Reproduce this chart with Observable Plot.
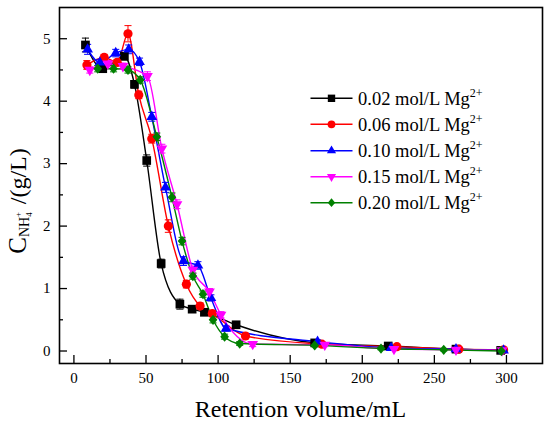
<!DOCTYPE html>
<html><head><meta charset="utf-8">
<script src="https://cdn.jsdelivr.net/npm/d3@7"></script>
<script src="https://cdn.jsdelivr.net/npm/@observablehq/plot@0.6"></script>
<style>body{margin:0;background:#fff}#chart{width:550px;height:423px}#chart svg text{font-family:'Liberation Serif','Times New Roman',serif !important}</style>
</head><body><div id="chart"></div>
<script>
// ---- data ----
const seriesLabels = ["0.02 mol/L Mg", "0.06 mol/L Mg", "0.10 mol/L Mg", "0.15 mol/L Mg", "0.20 mol/L Mg"];
const seriesColors = ["#000000", "#ff0000", "#0000ff", "#ff00ff", "#008000"];

const x002 = [8, 20, 35, 42, 50.5, 60.5, 73.5, 82, 90.5, 112.5, 167, 218, 265, 296];
const y002 = [4.9, 4.52, 4.72, 4.27, 3.05, 1.4, 0.75, 0.67, 0.62, 0.42, 0.13, 0.08, 0.03, 0.01];
const e002 = [0.11, 0.05, 0.06, 0.06, 0.09, 0.07, 0.08, 0.05, 0.05, 0.05, 0.03, 0.02, 0.02, 0.02];

const x006 = [9, 21, 30, 37.5, 45, 54, 65.5, 78, 87.5, 96, 119, 172, 224, 267, 298];
const y006 = [4.58, 4.7, 4.62, 5.08, 4.1, 3.4, 2.0, 1.07, 0.72, 0.6, 0.24, 0.11, 0.07, 0.03, 0.02];
const e006 = [0.07, 0.05, 0.05, 0.13, 0.06, 0.07, 0.1, 0.06, 0.05, 0.05, 0.04, 0.03, 0.02, 0.02, 0.02];

const x010 = [9.5, 18, 29, 38, 45.5, 54, 63.5, 76, 86, 95, 105.5, 169, 220, 265, 298];
const y010 = [4.83, 4.62, 4.77, 4.83, 4.63, 3.75, 2.62, 1.44, 1.37, 0.85, 0.36, 0.15, 0.05, 0.03, 0.01];
const e010 = [0.08, 0.05, 0.06, 0.07, 0.06, 0.07, 0.08, 0.07, 0.06, 0.05, 0.04, 0.03, 0.02, 0.02, 0.02];

const x015 = [11, 23.5, 34, 51, 61, 71.5, 82.5, 94, 102, 124, 174, 222, 265, 297];
const y015 = [4.5, 4.6, 4.56, 4.4, 3.24, 2.35, 1.3, 0.95, 0.58, 0.11, 0.1, 0.03, 0.02, 0.01];
const e015 = [0.05, 0.05, 0.05, 0.07, 0.07, 0.07, 0.06, 0.05, 0.05, 0.04, 0.03, 0.02, 0.02, 0.02];

const x020 = [16.5, 27.5, 37.5, 46, 57.5, 68, 75, 82.5, 89.5, 96.5, 104.5, 115, 167, 213, 256.5, 296.5];
const y020 = [4.52, 4.52, 4.5, 4.34, 3.43, 2.46, 1.76, 1.2, 0.91, 0.5, 0.23, 0.12, 0.09, 0.04, 0.02, 0.0];
const e020 = [0.05, 0.05, 0.05, 0.05, 0.06, 0.07, 0.06, 0.05, 0.05, 0.05, 0.04, 0.03, 0.02, 0.02, 0.02, 0.02];

const xTicks = [0, 50, 100, 150, 200, 250, 300];
const xMinorTicks = [25, 75, 125, 175, 225, 275];
const yTicks = [0, 1, 2, 3, 4, 5];
const yMinorTicks = [0.5, 1.5, 2.5, 3.5, 4.5];

// ---- build tables ----
const xs = [x002, x006, x010, x015, x020];
const ys = [y002, y006, y010, y015, y020];
const es = [e002, e006, e010, e015, e020];
const series = xs.map((xa, i) => xa.map((x, j) => ({x, y: ys[i][j], err: es[i][j]})));

// custom symbols
const symbolDown = {draw(ctx, size) {
  const y = -Math.sqrt(size / (Math.sqrt(3) * 3));
  ctx.moveTo(0, -y * 2); ctx.lineTo(Math.sqrt(3) * y, y); ctx.lineTo(-Math.sqrt(3) * y, y); ctx.closePath();
}};
const symbolDiamond = {draw(ctx, size) {
  const h = Math.sqrt(size / 0.8) * 1.1, w = h * 0.85;
  ctx.moveTo(0, -h / 2); ctx.lineTo(w / 2, 0); ctx.lineTo(0, h / 2); ctx.lineTo(-w / 2, 0); ctx.closePath();
}};
const symbolCap = {draw(ctx, size) {
  const w = Math.sqrt(size); ctx.moveTo(-w, 0); ctx.lineTo(w, 0);
}};
const seriesSymbols = [d3.symbolSquare, d3.symbolCircle, d3.symbolTriangle, symbolDown, symbolDiamond];
const seriesR = [4.9, 4.6, 4.0, 4.0, 4.7];

const plotW = 550, plotH = 423, mL = 59, mR = 8, mT = 7, mB = 60;
const innerW = plotW - mL - mR, innerH = plotH - mT - mB;
const font = "'Liberation Serif', 'Times New Roman', serif";

const marks = [];
series.forEach((d, i) => {
  marks.push(Plot.line(d, {x: "x", y: "y", stroke: seriesColors[i], strokeWidth: 1.4, curve: "monotone-x"}));
});
series.forEach((d, i) => {
  marks.push(Plot.ruleX(d, {x: "x", y1: p => p.y - p.err, y2: p => p.y + p.err, stroke: seriesColors[i], strokeWidth: 1}));
  marks.push(Plot.dot(d, {x: "x", y: p => p.y + p.err, symbol: symbolCap, r: 2, stroke: seriesColors[i], strokeWidth: 1, fill: "none"}));
  marks.push(Plot.dot(d, {x: "x", y: p => p.y - p.err, symbol: symbolCap, r: 2, stroke: seriesColors[i], strokeWidth: 1, fill: "none"}));
});
series.forEach((d, i) => {
  marks.push(Plot.dot(d, {x: "x", y: "y", symbol: seriesSymbols[i], r: seriesR[i], fill: seriesColors[i], stroke: "none"}));
});

const chart = Plot.plot({
  width: plotW, height: plotH,
  marginLeft: mL, marginRight: mR, marginTop: mT, marginBottom: mB,
  style: {fontFamily: font, fontSize: "15px", background: "#fff", color: "#000"},
  x: {domain: [-10, 325]},
  y: {domain: [-0.2, 5.5]},
  marks: [
    ...marks,
    Plot.tickX(xTicks, {x: d => d, insetTop: innerH - 8, stroke: "black", strokeWidth: 1.3}),
    Plot.tickX(xMinorTicks, {x: d => d, insetTop: innerH - 4, stroke: "black", strokeWidth: 1.3}),
    Plot.tickY(yTicks, {y: d => d, insetRight: innerW - 8, stroke: "black", strokeWidth: 1.3}),
    Plot.tickY(yMinorTicks, {y: d => d, insetRight: innerW - 4, stroke: "black", strokeWidth: 1.3}),
    Plot.axisX({ticks: xTicks, tickSize: 0, tickPadding: 9, label: null, fontSize: 15, tickFormat: d3.format("d")}),
    Plot.axisY({ticks: yTicks, tickSize: 0, tickPadding: 9, label: null, fontSize: 15, tickFormat: d3.format("d")}),
    Plot.frame({stroke: "black", strokeWidth: 1.6})
  ]
});
document.getElementById("chart").appendChild(chart);

const svg = d3.select(chart);
svg.selectAll("g").filter(function() { return this.getAttribute("font-family"); }).attr("font-family", font);

// x title
svg.append("text").attr("x", (mL + plotW - mR) / 2).attr("y", 417)
  .attr("text-anchor", "middle").attr("font-family", font).attr("font-size", 24).attr("fill", "#000")
  .text("Retention volume/mL");

// y title
const yt = svg.append("text").attr("transform", "translate(26,201) rotate(-90)")
  .attr("text-anchor", "middle").attr("font-family", font).attr("fill", "#000");
yt.append("tspan").attr("font-size", 25).text("C");
yt.append("tspan").attr("font-size", 14).attr("dy", 3).text("NH");
yt.append("tspan").attr("font-size", 9).attr("dy", 3).text("4");
yt.append("tspan").attr("font-size", 9).attr("dy", -11).attr("dx", -5).text("+");
yt.append("tspan").attr("font-size", 24).attr("dy", 5).attr("dx", 2).text(" /(g/L)");

// legend
const legRows = [98.3, 124.3, 150.7, 176.7, 202.7];
const lg = svg.append("g");
seriesLabels.forEach((lab, i) => {
  const y = legRows[i];
  lg.append("line").attr("x1", 310.5).attr("x2", 352.5).attr("y1", y).attr("y2", y)
    .attr("stroke", seriesColors[i]).attr("stroke-width", 1.4);
  lg.append("path").attr("transform", `translate(331.5,${y})`)
    .attr("d", d3.symbol(seriesSymbols[i], Math.PI * (seriesR[i] * 0.85) ** 2)())
    .attr("fill", seriesColors[i]);
  const t = lg.append("text").attr("x", 358).attr("y", y + 6.5).attr("font-family", font)
    .attr("text-anchor", "start").attr("font-size", 18.5).attr("fill", "#000");
  t.append("tspan").text(lab);
  t.append("tspan").attr("font-size", 12).attr("dy", -8).text("2+");
});
</script></body></html>
